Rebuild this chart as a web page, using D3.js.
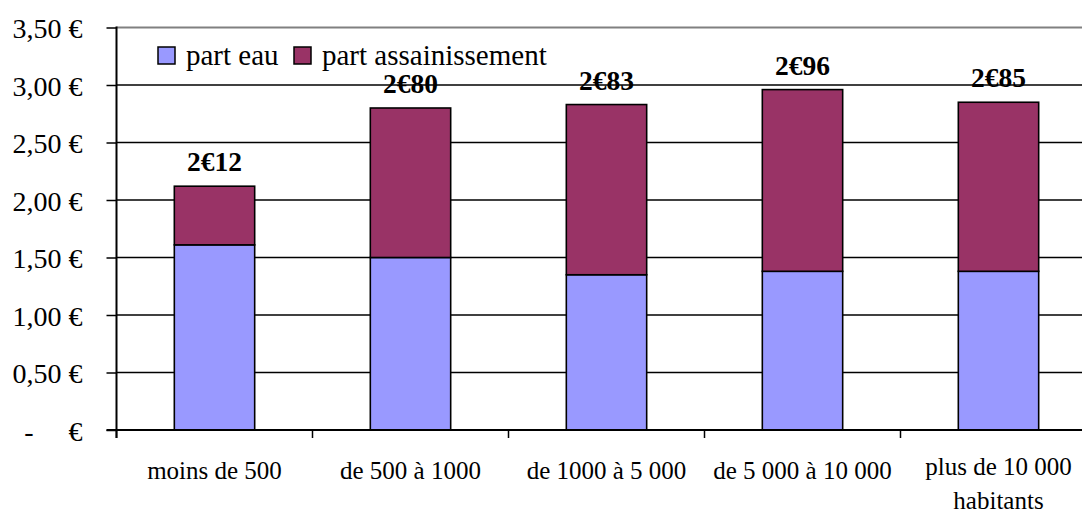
<!DOCTYPE html>
<html><head><meta charset="utf-8">
<script src="https://cdn.jsdelivr.net/npm/d3@7"></script>
<style>
html,body{margin:0;padding:0;background:#fff;}
svg{display:block;font-family:"Liberation Serif","Times New Roman",serif;}
</style></head>
<body>
<svg id="chart" width="1082" height="513"></svg>
<script>
const categories = ["moins de 500", "de 500 à 1000", "de 1000 à 5 000", "de 5 000 à 10 000", "plus de 10 000|habitants"];
const partEau = [1.61, 1.50, 1.35, 1.38, 1.38];
const totals = [2.12, 2.80, 2.83, 2.96, 2.85];
const partAssainissement = totals.map((t, i) => +(t - partEau[i]).toFixed(2));
const totalLabels = ["2€12", "2€80", "2€83", "2€96", "2€85"];
const yTicks = [0, 0.5, 1, 1.5, 2, 2.5, 3, 3.5];
const yTickLabels = ["-     €", "0,50 €", "1,00 €", "1,50 €", "2,00 €", "2,50 €", "3,00 €", "3,50 €"];
const seriesNames = ["part eau", "part assainissement"];
const colors = ["#9999FF", "#993366"];

const svg = d3.select("#chart");
const mLeft = 116.5, mRight = 1096.5, mTop = 27.5, mBottom = 430;
const serif = "'Liberation Serif', 'Times New Roman', serif";

const x = d3.scaleBand().domain(categories).range([mLeft, mRight]).padding(0);
const y = d3.scaleLinear().domain([0, 3.5]).range([mBottom, mTop]);

// gridlines
svg.append("g").selectAll("line").data(yTicks.filter(d => d > 0)).join("line")
  .attr("x1", mLeft).attr("x2", mRight)
  .attr("y1", d => y(d)).attr("y2", d => y(d))
  .attr("stroke", d => d === 3.5 ? "#808080" : "#000")
  .attr("stroke-width", d => d === 3.5 ? 2 : 1.4);

// stacked bars
const data = categories.map((c, i) => ({cat: c, eau: partEau[i], ass: partAssainissement[i]}));
const stack = d3.stack().keys(["eau", "ass"])(data);
const barW = x.bandwidth() * 0.41;
const gBars = svg.append("g");
stack.forEach((s, si) => {
  gBars.append("g").selectAll("rect").data(s).join("rect")
    .attr("x", d => x(d.data.cat) + (x.bandwidth() - barW) / 2)
    .attr("width", barW)
    .attr("y", d => y(d[1]))
    .attr("height", d => y(d[0]) - y(d[1]))
    .attr("fill", colors[si])
    .attr("stroke", "#000").attr("stroke-width", 1.6);
});

// total labels
svg.append("g").selectAll("text").data(categories).join("text")
  .attr("x", d => x(d) + x.bandwidth() / 2)
  .attr("y", (d, i) => y(totals[i]) - 15)
  .attr("text-anchor", "middle")
  .style("font-family", serif)
  .attr("font-weight", "bold")
  .attr("font-size", 27.5)
  .text((d, i) => totalLabels[i]);

// y axis
const yAxis = d3.axisLeft(y).tickValues(yTicks).tickSize(10).tickPadding(24)
  .tickFormat((d, i) => yTickLabels[i]);
const gy = svg.append("g").attr("transform", `translate(${mLeft},0)`).call(yAxis);
gy.select(".domain").remove();
gy.selectAll(".tick line").attr("stroke", "#000").attr("stroke-width", 1.5);
gy.selectAll(".tick text").attr("font-size", 28).style("font-family", serif)
  .attr("fill", "#000").style("white-space", "pre").attr("dy", "0.36em");
gy.append("line").attr("x1", 0).attr("x2", 0).attr("y1", mTop - 1).attr("y2", mBottom + 8)
  .attr("stroke", "#000").attr("stroke-width", 2);

// x axis
const gx = svg.append("g").attr("transform", `translate(0,${mBottom})`);
gx.append("line").attr("x1", mLeft - 10).attr("x2", mRight).attr("y1", 0).attr("y2", 0)
  .attr("stroke", "#000").attr("stroke-width", 2);
gx.selectAll(".xt").data(categories).join("line").attr("class", "xt")
  .attr("x1", d => x(d)).attr("x2", d => x(d)).attr("y1", 0).attr("y2", 8)
  .attr("stroke", "#000").attr("stroke-width", 1.5);
gx.selectAll(".xl").data(categories).join("text").attr("class", "xl")
  .attr("text-anchor", "middle").attr("font-size", 25).style("font-family", serif)
  .each(function(d) {
    const lines = d.split("|");
    const t = d3.select(this);
    const y0 = lines.length > 1 ? 45 : 49;
    lines.forEach((l, k) => {
      t.append("tspan").attr("x", x(d) + x.bandwidth() / 2).attr("y", y0 + k * 34).text(l);
    });
  });

// legend
const lg = svg.append("g");
const legendX = [158, 294];
seriesNames.forEach((n, i) => {
  lg.append("rect").attr("x", legendX[i]).attr("y", 47).attr("width", 17).attr("height", 17)
    .attr("fill", colors[i]).attr("stroke", "#000").attr("stroke-width", 1.5);
  lg.append("text").attr("x", legendX[i] + 28).attr("y", 65).attr("font-size", 29)
    .style("font-family", serif).text(n);
});
</script>
</body></html>
